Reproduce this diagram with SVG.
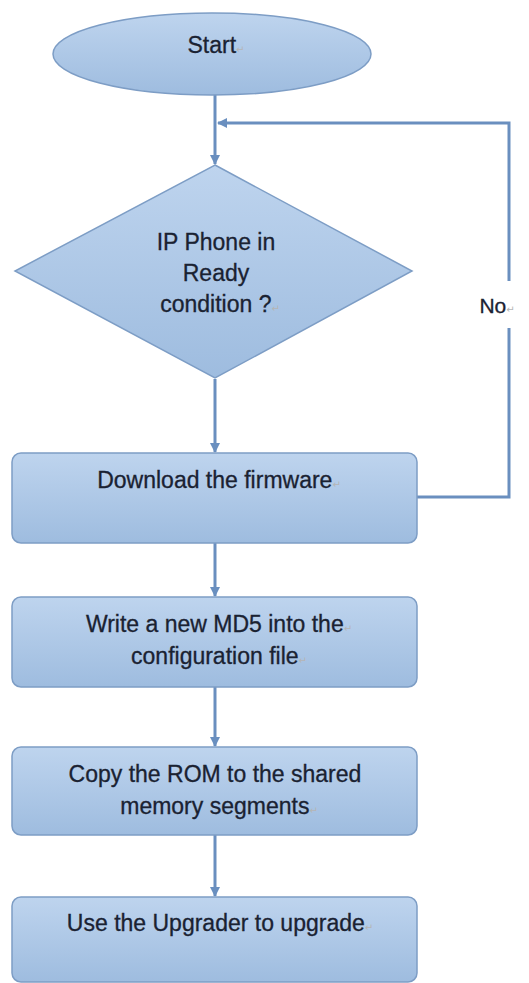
<svg xmlns="http://www.w3.org/2000/svg" width="529" height="983" viewBox="0 0 529 983">
<defs>
<linearGradient id="g" x1="0" y1="0" x2="0" y2="1">
<stop offset="0" stop-color="#bed4ee"/>
<stop offset="1" stop-color="#9ebcdf"/>
</linearGradient>
<marker id="ah" viewBox="0 0 10 10" refX="9" refY="5" markerWidth="10" markerHeight="10" markerUnits="userSpaceOnUse" orient="auto">
<path d="M0,0 L10,5 L0,10 z" fill="#6a8fbf"/>
</marker>
</defs>
<style>
.shape{fill:url(#g);stroke:#7d9dc5;stroke-width:1.5}
.t{font-family:"Liberation Sans",Arial,sans-serif;font-size:23px;fill:#1a2232;stroke:#1a2232;stroke-width:0.3;text-anchor:middle}
.pm{font-family:"DejaVu Sans",sans-serif;font-size:10px;fill:#b5b5b5;stroke:none}
.c{fill:none;stroke:#6a8fbf;stroke-width:3}
</style>
<rect width="529" height="983" fill="#ffffff"/>
<g id="connectors">
<path class="c" d="M215,94 V164" marker-end="url(#ah)"/>
<path class="c" d="M417,497 H509 V328 M509,281 V123 H218" marker-end="url(#ah)"/>
<path class="c" d="M215,379 V452" marker-end="url(#ah)"/>
<path class="c" d="M215,543 V596" marker-end="url(#ah)"/>
<path class="c" d="M215,687 V746" marker-end="url(#ah)"/>
<path class="c" d="M215,835 V896" marker-end="url(#ah)"/>
<text class="t" x="497" y="313" style="font-size:21px">No<tspan class="pm">↵</tspan></text>
</g>
<g id="start">
<ellipse class="shape" cx="212" cy="54" rx="159" ry="41"/>
<text class="t" x="216" y="53">Start<tspan class="pm">↵</tspan></text>
</g>
<g id="decision">
<polygon class="shape" points="215,165 412,271 215,378 15,271"/>
<text class="t" x="216" y="250">IP Phone in</text>
<text class="t" x="216" y="281">Ready</text>
<text class="t" x="220" y="312">condition ?<tspan class="pm">↵</tspan></text>
</g>
<g id="download">
<rect class="shape" x="12" y="453" width="405" height="90" rx="9"/>
<text class="t" x="219" y="488">Download the firmware<tspan class="pm">↵</tspan></text>
</g>
<g id="md5">
<rect class="shape" x="12" y="597" width="405" height="90" rx="9"/>
<text class="t" x="219" y="632">Write a new MD5 into the<tspan class="pm">↵</tspan></text>
<text class="t" x="219" y="664">configuration file<tspan class="pm">↵</tspan></text>
</g>
<g id="rom">
<rect class="shape" x="12" y="747" width="405" height="88" rx="9"/>
<text class="t" x="215" y="782">Copy the ROM to the shared</text>
<text class="t" x="219" y="814">memory segments<tspan class="pm">↵</tspan></text>
</g>
<g id="upgrade">
<rect class="shape" x="12" y="897" width="405" height="85" rx="9"/>
<text class="t" x="220" y="931">Use the Upgrader to upgrade<tspan class="pm">↵</tspan></text>
</g>
</svg>
